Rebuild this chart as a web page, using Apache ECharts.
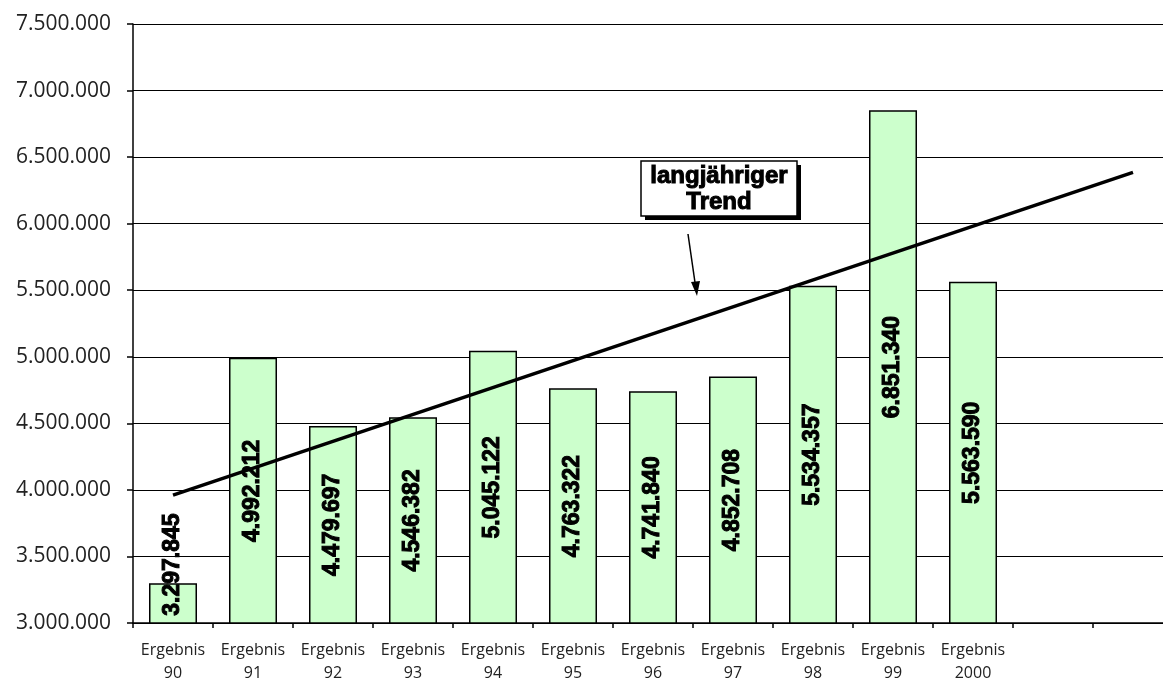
<!DOCTYPE html>
<html>
<head>
<meta charset="utf-8">
<script src="https://cdn.jsdelivr.net/npm/echarts@6/dist/echarts.min.js"></script>
<style>
html,body{margin:0;padding:0;background:#fff;}
#chart{width:1163px;height:682px;}
</style>
</head>
<body>
<div id="chart"></div>
<script>
// ---- data ----
var categories = ['Ergebnis\n90','Ergebnis\n91','Ergebnis\n92','Ergebnis\n93','Ergebnis\n94','Ergebnis\n95','Ergebnis\n96','Ergebnis\n97','Ergebnis\n98','Ergebnis\n99','Ergebnis\n2000','',''];
var values = [3297845, 4992212, 4479697, 4546382, 5045122, 4763322, 4741840, 4852708, 5534357, 6851340, 5563590, null, null];
var trendValues = [3960000, null, null, null, null, null, null, null, null, null, null, null, 6385000];
var yTicks = {min: 3000000, max: 7500000, interval: 500000};
var annotationLines = ['langjähriger', 'Trend'];

function fmt(v){
  return String(Math.round(v)).replace(/\B(?=(\d{3})+(?!\d))/g, '.');
}

var barData = values.map(function(v, i){
  if (v === null) return '-';
  if (i === 0) {
    return {value: v, label: {position: ['50%', '100%'], align: 'left', verticalAlign: 'middle', padding: [0,0,0,8]}};
  }
  return v;
});

var chart = echarts.init(document.getElementById('chart'));
chart.setOption({
  animation: false,
  backgroundColor: '#ffffff',
  grid: {left: 133, right: -10, top: 24, bottom: 59, containLabel: false, outerBoundsMode: 'none'},
  xAxis: {
    type: 'category',
    data: categories,
    boundaryGap: true,
    axisLine: {lineStyle: {color: '#000', width: 1.5}},
    axisTick: {show: true, alignWithLabel: false, length: 5, lineStyle: {color: '#000', width: 1.5}},
    axisLabel: {color: '#222', fontFamily: 'Open Sans', fontSize: 16, lineHeight: 23, margin: 16, interval: 0},
    splitLine: {show: false}
  },
  yAxis: {
    type: 'value',
    min: yTicks.min, max: yTicks.max, interval: yTicks.interval,
    axisLine: {show: true, lineStyle: {color: '#000', width: 1.5}},
    axisTick: {show: true, length: 6, lineStyle: {color: '#000', width: 1.5}},
    axisLabel: {color: '#222', fontFamily: 'Open Sans', fontSize: 21, margin: 22, formatter: fmt},
    splitLine: {show: true, lineStyle: {color: '#000', width: 1.2}}
  },
  series: [
    {
      type: 'bar',
      data: barData,
      barWidth: '60%',
      itemStyle: {color: '#CCFFCC', borderColor: '#000', borderWidth: 1.5},
      label: {
        show: true, position: 'inside', rotate: 90,
        color: '#000', fontFamily: 'Liberation Sans', fontWeight: 'bold', fontSize: 23,
        textBorderColor: '#000', textBorderWidth: 1,
        formatter: function(p){ return fmt(p.value); }
      },
      z: 2
    },
    {
      type: 'line',
      data: trendValues,
      connectNulls: true,
      symbol: 'none',
      lineStyle: {color: '#000', width: 3.5},
      z: 5
    }
  ],
  graphic: [
    {type: 'rect', shape: {x: 645, y: 165, width: 156, height: 55}, style: {fill: '#000'}, z: 10},
    {type: 'rect', shape: {x: 641, y: 161, width: 156, height: 55}, style: {fill: '#fff', stroke: '#000', lineWidth: 1.5}, z: 11},
    {type: 'text', x: 719, y: 189, style: {text: annotationLines.join('\n'), fill: '#000', font: 'bold 24px "Liberation Sans"', stroke: '#000', lineWidth: 1, align: 'center', verticalAlign: 'middle', lineHeight: 26}, z: 12},
    {type: 'line', shape: {x1: 688, y1: 234, x2: 695.5, y2: 286}, style: {stroke: '#000', lineWidth: 1.5}, z: 12},
    {type: 'polygon', shape: {points: [[697, 296], [691, 282], [700, 281]]}, style: {fill: '#000'}, z: 12}
  ]
});
</script>
</body>
</html>
